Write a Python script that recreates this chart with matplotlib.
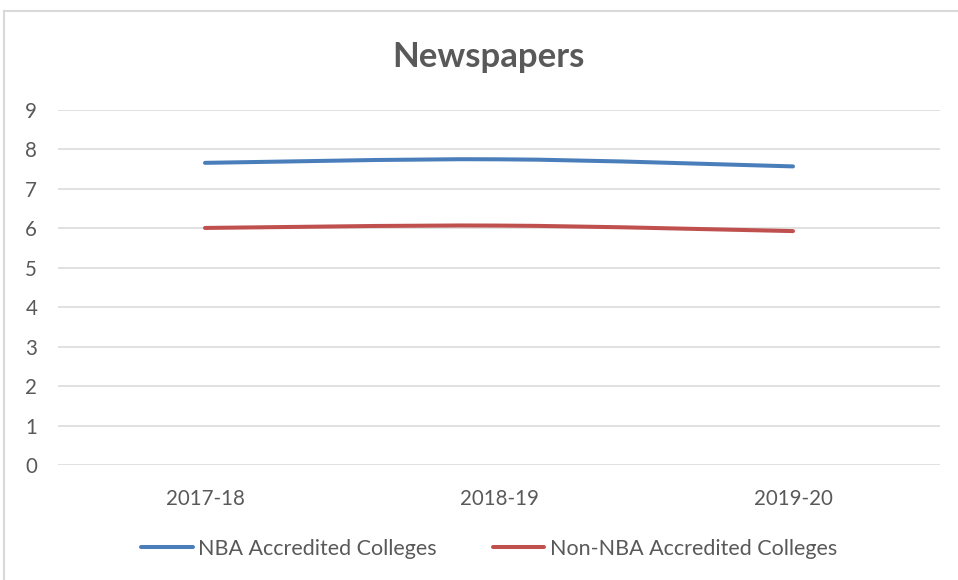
import matplotlib.pyplot as plt
import numpy as np
from matplotlib.path import Path
from matplotlib.patches import PathPatch
from matplotlib.lines import Line2D

plt.rcParams['font.family'] = ['Lato', 'DejaVu Sans']

years = ['2017-18', '2018-19', '2019-20']
nba = [7.66, 7.75, 7.57]
non_nba = [6.01, 6.07, 5.93]
series_names = ['NBA Accredited Colleges', 'Non-NBA Accredited Colleges']
series_colors = ['#4a7ebb', '#c0504d']

text_gray = '#595959'
grid_gray = '#d9d9d9'


def smooth_path(xs, ys):
    # cubic bezier through the points, like a spreadsheet "smoothed line"
    pts = np.column_stack([xs, ys]).astype(float)
    padded = np.vstack([pts[0], pts, pts[-1]])
    verts = [pts[0]]
    codes = [Path.MOVETO]
    for i in range(len(pts) - 1):
        p0, p1, p2, p3 = padded[i], padded[i + 1], padded[i + 2], padded[i + 3]
        verts += [p1 + (p2 - p0) / 6, p2 - (p3 - p1) / 6, p2]
        codes += [Path.CURVE4] * 3
    return Path(verts, codes)


fig = plt.figure(figsize=(9.58, 5.8), dpi=100)
W, H = 958, 580
ax = fig.add_axes([58 / W, 1 - 465 / H, (940 - 58) / W, (465 - 110) / H])

x = np.arange(len(years))
for vals, name, color in zip([nba, non_nba], series_names, series_colors):
    patch = PathPatch(smooth_path(x, vals), facecolor='none', edgecolor=color,
                      lw=2.9, capstyle='round', joinstyle='round', zorder=3)
    ax.add_patch(patch)

ax.set_xlim(-0.5, len(years) - 0.5)
ax.set_ylim(0, 9)
ax.set_yticks(range(0, 10))
ax.set_xticks(x)
ax.set_xticklabels(years)
ax.grid(axis='y', color=grid_gray, lw=1.1)
ax.set_axisbelow(True)
for s in ax.spines.values():
    s.set_visible(False)
ax.tick_params(length=0, labelsize=14.8, colors=text_gray)
ax.tick_params(axis='x', pad=17)
ax.tick_params(axis='y', pad=15)

fig.text(488 / W, 1 - 57 / H, 'Newspapers', ha='center', va='center',
         fontsize=25, fontweight='bold', color=text_gray)

handles = [Line2D([], [], color=c, lw=2.9, solid_capstyle='round') for c in series_colors]
leg = fig.legend(handles, series_names, loc='center', bbox_to_anchor=(489 / W, 1 - 549 / H),
                 ncol=2, frameon=False, fontsize=15.5, handlelength=2.4,
                 handletextpad=0.25, columnspacing=2.6, labelcolor=text_gray)

# outer chart border
fig.add_artist(Line2D([4 / W, 4 / W], [0, 1 - 11 / H], color='#d9d9d9', lw=1.5))
fig.add_artist(Line2D([4 / W, 1], [1 - 11 / H, 1 - 11 / H], color='#d9d9d9', lw=1.5))

fig.savefig('out.png', dpi=100)
